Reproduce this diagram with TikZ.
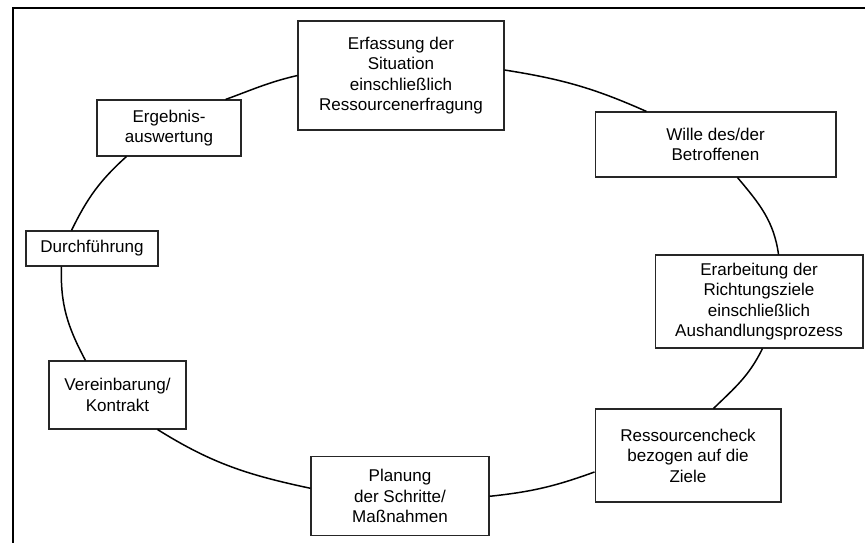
\documentclass[tikz,border=0pt]{standalone}
\usepackage{fontspec}
\setmainfont{Liberation Sans}
\usepackage{tikz}
\usetikzlibrary{calc}
\tikzset{
  stage/.style={draw=black!85, line width=0.6pt, fill=white, align=center,
    inner sep=2pt, font=\fontsize{9.7}{11.7}\selectfont},
  cycleline/.style={line width=0.85pt, black},
  frameline/.style={line width=0.8pt, black}
}
\newcommand{\stage}[6]{\node[stage, minimum width=#4cm, minimum height=#5cm] (#1) at (#2,#3) {#6};}

\begin{document}
\begin{tikzpicture}[x=0.02cm, y=0.02cm]

        \useasboundingbox (0,0) rectangle (865,-543);

        % frame
        \draw[frameline] (865,-8) -- (13,-8) -- (13,-543);

        % stages
        \stage{erf}{401}{-75.5}{4.12}{2.18}{Erfassung der\\Situation\\einschließlich\\Ressourcenerfragung}
        \stage{erg}{169}{-128}{2.88}{1.12}{Ergebnis-\\auswertung}
        \stage{dur}{92}{-248.5}{2.64}{0.70}{Durchführung}
        \stage{ver}{117.5}{-395}{2.74}{1.36}{Vereinbarung/\\Kontrakt}
        \stage{pla}{400}{-496.3}{3.56}{1.58}{Planung\\der Schritte/\\Maßnahmen}
        \stage{res}{688}{-455.5}{3.72}{1.86}{Ressourcencheck\\bezogen auf die\\Ziele}
        \stage{era}{759}{-301.5}{4.16}{1.86}{Erarbeitung der\\Richtungsziele\\einschließlich\\Aushandlungsprozess}
        \stage{wil}{715.5}{-144.5}{4.82}{1.30}{Wille des/der\\Betroffenen}

        % cycle
        \draw[cycleline] (erf.west) to[out=193, in=20] ([xshift=-0.32cm]erg.north east);
        \draw[cycleline] ([xshift=0.6cm]erg.south west) to[out=222, in=64] ([xshift=0.92cm]dur.north west);
        \draw[cycleline] ([xshift=0.72cm]dur.south west) to[out=268, in=118] ([xshift=0.74cm]ver.north west);
        \draw[cycleline] ([xshift=-0.58cm]ver.south east) to[out=-32, in=168] ([yshift=0.16cm]pla.west);
        \draw[cycleline] (pla.east) to[out=6, in=200] ([yshift=-0.33cm]res.west);
        \draw[cycleline] ([xshift=2.38cm]res.north west) to[out=44, in=244] ([xshift=2.16cm]era.south west);
        \draw[cycleline] ([xshift=-1.7cm]era.north east) to[out=98, in=-50] ([xshift=2.86cm]wil.south west);
        \draw[cycleline] ([xshift=1.04cm]wil.north west) to[out=156, in=-9] ([yshift=0.11cm]erf.east);

\end{tikzpicture}
\end{document}
